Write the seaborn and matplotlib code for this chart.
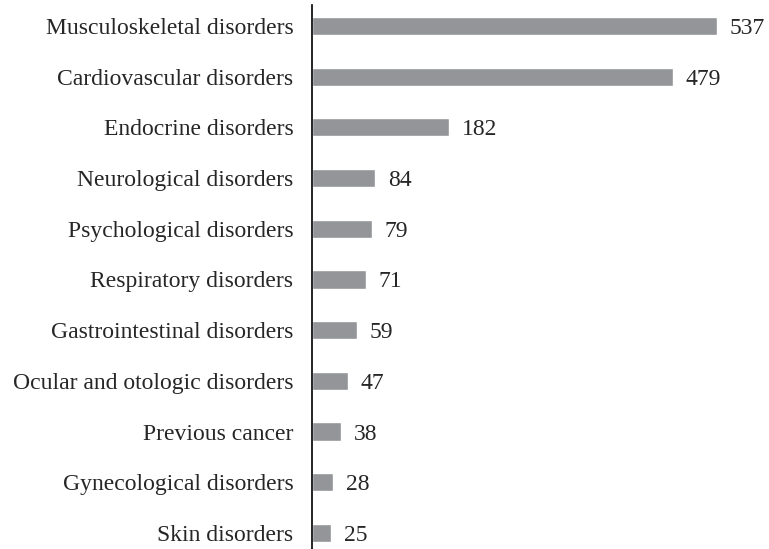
import matplotlib
matplotlib.use("Agg")
import matplotlib.pyplot as plt
import seaborn as sns
import pandas as pd

categories = [
    "Musculoskeletal disorders",
    "Cardiovascular disorders",
    "Endocrine disorders",
    "Neurological disorders",
    "Psychological disorders",
    "Respiratory disorders",
    "Gastrointestinal disorders",
    "Ocular and otologic disorders",
    "Previous cancer",
    "Gynecological disorders",
    "Skin disorders",
]
counts = [537, 479, 182, 84, 79, 71, 59, 47, 38, 28, 25]

df = pd.DataFrame({"category": categories, "count": counts})

sns.set_style("white")
plt.rcParams["font.family"] = ["Liberation Serif", "DejaVu Serif"]

fig = plt.figure(figsize=(7.69, 5.49), dpi=100)
ax = fig.add_axes([0.406, 0.0, 0.5875, 0.991])

sns.barplot(data=df, x="count", y="category", color="#939598",
            saturation=1, width=0.36, ax=ax)

for i, v in enumerate(counts):
    ax.text(v + 17, i, str(v), va="center_baseline", ha="left", fontsize=17)

ax.set_xlim(0, 600)
ax.set_ylim(10.315, -0.414)
ax.set_xlabel("")
ax.set_ylabel("")
ax.set_xticks([])
ax.tick_params(axis="y", length=0, pad=13.5, labelsize=17)
for s in ["top", "right", "bottom"]:
    ax.spines[s].set_visible(False)
ax.spines["left"].set_color("black")
ax.spines["left"].set_linewidth(1.2)

fig.savefig("out.png", dpi=100)
